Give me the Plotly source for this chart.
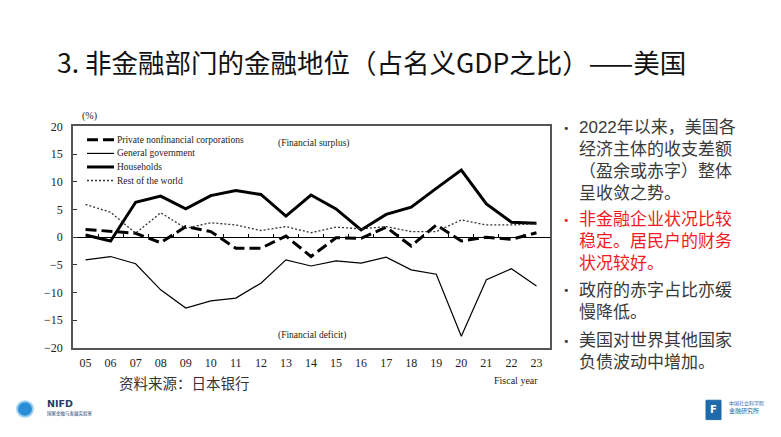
import plotly.graph_objects as go

W, H = 781, 437

years = ["05", "06", "07", "08", "09", "10", "11", "12", "13", "14",
         "15", "16", "17", "18", "19", "20", "21", "22", "23"]
corp = [1.4, 1.0, 0.7, -1.0, 1.9, 1.0, -2.0, -2.0, 0.2, -3.5,
        -0.1, -0.2, 1.8, -1.6, 2.2, -0.7, 0.0, -0.4, 0.8]
gov = [-4.1, -3.5, -4.8, -9.5, -12.8, -11.5, -11.0, -8.3, -4.1, -5.2,
       -4.3, -4.7, -3.6, -5.9, -6.7, -17.9, -7.7, -5.7, -8.8]
hh = [0.4, -0.7, 6.3, 7.4, 5.1, 7.5, 8.4, 7.7, 3.8, 7.6,
      5.1, 1.3, 4.1, 5.4, 8.8, 12.1, 6.0, 2.7, 2.5]
row = [5.9, 4.5, 0.7, 4.4, 1.6, 2.6, 2.2, 1.2, 1.9, 0.8,
       1.8, 1.5, 1.9, 1.0, 1.0, 3.1, 2.2, 2.2, 2.4]
yticks = [20, 15, 10, 5, 0, -5, -10, -15, -20]
series_names = ["Private nonfinancial corporations", "General government",
                "Households", "Rest of the world"]

title = "3. 非金融部门的金融地位（占名义GDP之比）——美国"
source = "资料来源：日本银行"
bullets = [
    (["2022年以来，美国各", "经济主体的收支差额", "（盈余或赤字）整体", "呈收敛之势。"], "#3a3a3a"),
    (["非金融企业状况比较", "稳定。居民户的财务", "状况较好。"], "#ee1c25"),
    (["政府的赤字占比亦缓", "慢降低。"], "#3a3a3a"),
    (["美国对世界其他国家", "负债波动中增加。"], "#3a3a3a"),
]

OFF = 8  # page body margin compensation


def px(x):
    return (x - OFF) / W


def py(y):
    return 1 - (y - OFF) / H


SERIF = "Liberation Serif, Times New Roman, serif"
CJK = "Noto Sans CJK SC, sans-serif"
BODY = "Liberation Sans, Noto Sans CJK SC, sans-serif"

xs = list(range(len(years)))
styles = [
    dict(color="black", width=3, dash="11px,5px"),
    dict(color="black", width=1.2),
    dict(color="black", width=3),
    dict(color="#333333", width=1.3, dash="2px,2px"),
]
data = [corp, gov, hh, row]

fig = go.Figure()
for name, vals, st in zip(series_names, data, styles):
    fig.add_trace(go.Scatter(x=xs, y=vals, mode="lines", name=name,
                             line=st, showlegend=False, hoverinfo="skip"))
# invisible trace so the zero-line tick axis is drawn
fig.add_trace(go.Scatter(x=xs, y=[None] * len(xs), xaxis="x2", yaxis="y",
                         mode="lines", showlegend=False, hoverinfo="skip"))

ydom = [py(352), py(123)]
xdom = [px(73), px(550)]
xr = [-0.5, 18.54]
zero_pos = ydom[0] + (ydom[1] - ydom[0]) * 0.5

fig.update_layout(
    width=W, height=H,
    margin=dict(l=0, r=0, t=0, b=0),
    paper_bgcolor="white", plot_bgcolor="white",
    xaxis=dict(domain=xdom, range=xr, tickmode="array", tickvals=xs, ticktext=years,
               showgrid=False, zeroline=False, showline=True, mirror=True,
               linecolor="#555555", linewidth=1.5, ticks="",
               tickfont=dict(family=SERIF, size=12, color="#222"),
               ticklabelstandoff=3, fixedrange=True),
    xaxis2=dict(overlaying="x", anchor="free", position=zero_pos, range=xr,
                tickmode="array", tickvals=[i + 0.5 for i in xs[:-1]],
                showticklabels=False, ticks="inside", ticklen=3, tickcolor="black",
                tickwidth=1, showgrid=False, zeroline=False, showline=False),
    yaxis=dict(domain=ydom, range=[-20, 20], tickmode="array", tickvals=yticks,
               showgrid=False, zeroline=True, zerolinecolor="black", zerolinewidth=1,
               showline=True, mirror=True, linecolor="#555555", linewidth=1.5,
               ticks="inside", ticklen=4, tickcolor="#333",
               tickfont=dict(family=SERIF, size=12, color="#222"),
               ticklabelstandoff=6, fixedrange=True),
    showlegend=False,
)

ann = []


def add_text(x, y, text, size, color="#222", family=SERIF, xanchor="left"):
    ann.append(dict(x=px(x), y=py(y), xref="paper", yref="paper", text=text,
                    showarrow=False, xanchor=xanchor, yanchor="middle", align="left",
                    font=dict(family=family, size=size, color=color)))


add_text(55, 56, title, 26.5, color="#111", family=CJK)
add_text(80, 112, "(%)", 10)
add_text(276, 141, "(Financial surplus)", 9.5)
add_text(276, 339, "(Financial deficit)", 9.5)
add_text(540, 386, "Fiscal year", 10, xanchor="right")
add_text(117, 388, source, 14.5, color="#333", family=CJK)

# manual legend
leg_y = [137, 151, 165, 179]
shapes = []
for name, st, yy in zip(series_names, styles, leg_y):
    shapes.append(dict(type="line", xref="paper", yref="paper",
                       x0=px(87), x1=px(114), y0=py(yy), y1=py(yy),
                       line=dict(color=st["color"], width=st["width"],
                                 dash=st.get("dash", "solid"))))
    add_text(115, yy, name, 9.5)

# right-hand bullet text (one annotation per paragraph)
FS = 17
LH = FS * 1.3
first_y = [125, 220, 293, 345]
for (lines, col), y0 in zip(bullets, first_y):
    add_text(566, y0, "•", 11, color=col, family="DejaVu Sans", xanchor="center")
    center = y0 + (len(lines) - 1) * LH / 2
    add_text(577, center, "<br>".join(lines), FS, color=col, family=BODY)

# logos (approximate)
shapes.append(dict(type="circle", xref="paper", yref="paper",
                   x0=px(17), x1=px(33), y0=py(423), y1=py(407),
                   fillcolor="#2a8fd6", line=dict(color="#9fd0f0", width=2)))
add_text(45, 409, "<b>NIFD</b>", 9.5, color="#1b3d6e", family="DejaVu Sans")
add_text(45, 420, "国家金融与发展实验室", 4.5, color="#1b3d6e", family=CJK)
shapes.append(dict(type="rect", xref="paper", yref="paper",
                   x0=px(706), x1=px(721), y0=py(426), y1=py(406),
                   fillcolor="#1f6aa8", line=dict(color="#1f6aa8", width=1)))
add_text(713.5, 416, "<b>F</b>", 10, color="white", family="DejaVu Sans", xanchor="center")
add_text(727, 409, "中国社会科学院", 5, color="#1f6aa8", family=CJK)
add_text(727, 417, "金融研究所", 6, color="#1f6aa8", family=CJK)

fig.update_layout(annotations=ann, shapes=shapes)
fig.write_html("out.html")
